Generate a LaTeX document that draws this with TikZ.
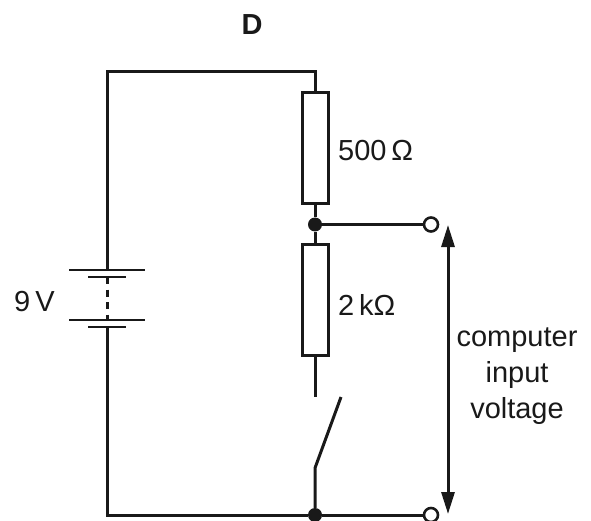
\documentclass[tikz,border=0pt]{standalone}
\usepackage{fontspec}
\setmainfont{Liberation Sans}
\usetikzlibrary{arrows.meta}
\tikzset{
 wire/.style={line width=3pt,draw=black!90,line join=miter},
 res/.style={draw=black!90,line width=3pt,fill=white,minimum width=26pt,minimum height=111pt,inner sep=0pt,rectangle},
 dot/.style={circle,fill=black!90,minimum size=14pt,inner sep=0pt},
 term/.style={circle,draw=black!90,fill=white,line width=2.6pt,minimum size=14pt,inner sep=0pt},
 lbl/.style={font=\fontsize{29}{36}\selectfont,text=black!90,inner sep=0pt},
 plate/.style={line width=2.8pt,draw=black!90},
}
\begin{document}
\begin{tikzpicture}[x=1pt,y=-1pt]
\useasboundingbox (0,0) rectangle (591,521);
\coordinate (tl) at (107,72);
\coordinate (tr) at (315,72);
\coordinate (bl) at (107,515);
\coordinate (p1) at (107,270);
\coordinate (p2) at (107,277);
\coordinate (p3) at (107,320);
\coordinate (p4) at (107,327);
\coordinate (r2end) at (315,397);
\coordinate (hinge) at (315,468);
\coordinate (swtip) at (341,397);
\node[res] (r1) at (315,148.5) {};
\node[res] (r2) at (315,300) {};
\node[dot] (j1) at (315,224.5) {};
\node[dot] (j2) at (315,515) {};
\node[term] (t1) at (431,224.5) {};
\node[term] (t2) at (431,515) {};
\draw[wire] (p1) -- (tl) -- (tr) -- (r1.north -| tr);
\draw[wire] (r1.south -| j1) -- (j1);
\draw[wire] (j1) -- (r2.north -| j1);
\draw[wire] (r2.south -| j1) -- (r2end);
\draw[wire] (j1) -- (t1);
\draw[wire] (p4) -- (bl) -- (j2);
\draw[wire] (j2) -- (t2);
\draw[wire] (j2) -- (hinge) -- (swtip);
\draw[plate] (69,270) -- (145,270);
\draw[plate] (88,277) -- (126,277);
\draw[plate] (69,320) -- (145,320);
\draw[plate] (88,327) -- (126,327);
\draw[line width=3pt,draw=black!90,dash pattern=on 7pt off 5.5pt] (p2) -- (p3);
\coordinate (au) at (448,225);
\coordinate (ad) at (448,514);
\draw[line width=3pt,draw=black!90,{Triangle[length=22pt,width=13pt]}-{Triangle[length=22pt,width=13pt]}] (au) -- (ad);
\node[lbl,font=\bfseries\fontsize{29}{30}\selectfont] (d) at (252,25) {D};
\node[lbl,anchor=west] (a) at (338,151) {500\,Ω};
\node[lbl,anchor=west] (b) at (338,305) {2\,kΩ};
\node[lbl,anchor=west] (c) at (14,302) {9\hspace{5pt}V};
\node[lbl,align=center] (e) at (517,376) {computer\\input\\voltage};
\end{tikzpicture}
\end{document}
